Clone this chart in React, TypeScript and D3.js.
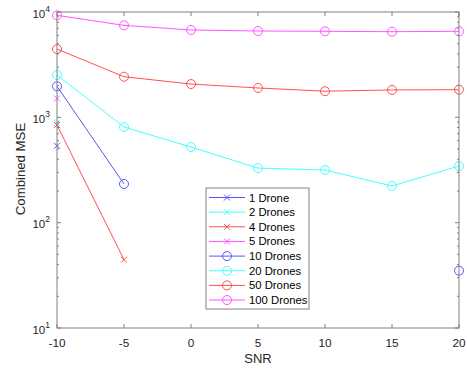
import React from "react";
import * as d3 from "d3";

const snr = [-10, -5, 0, 5, 10, 15, 20];
const xTicks = [-10, -5, 0, 5, 10, 15, 20];
const yTickExps = [1, 2, 3, 4];

// null = no data
const drone1 = [537, null, null, null, null, null, null];
const drone2 = [890, null, null, null, null, null, null];
const drone4 = [845, 44.5, null, null, null, null, null];
const drone5 = [1510, null, null, null, null, null, null];
const drone10 = [1970, 233, null, null, null, null, 35];
const drone20 = [2520, 810, 522, 330, 316, 223, 345];
const drone50 = [4450, 2430, 2070, 1900, 1770, 1820, 1830];
const drone100 = [9300, 7470, 6750, 6600, 6560, 6500, 6560];

const seriesNames = ["1 Drone", "2 Drones", "4 Drones", "5 Drones", "10 Drones", "20 Drones", "50 Drones", "100 Drones"];
const seriesData = [drone1, drone2, drone4, drone5, drone10, drone20, drone50, drone100];
const seriesColors = ["#5555ff", "#44ffff", "#ff5050", "#ff55ff", "#5555ff", "#44ffff", "#ff5050", "#ff55ff"];
const seriesMarkers = ["x", "x", "x", "x", "o", "o", "o", "o"];

const W = 467, H = 370;
const left = 57, right = 459, top = 12, bottom = 328;

function Marker({ type, cx, cy, color }: { type: string; cx: number; cy: number; color: string }) {
  if (type === "o") return <circle cx={cx} cy={cy} r={4.5} fill="none" stroke={color} strokeWidth={1} />;
  const s = 3;
  return (
    <path d={`M${cx - s},${cy - s}L${cx + s},${cy + s}M${cx - s},${cy + s}L${cx + s},${cy - s}`} stroke={color} strokeWidth={1} />
  );
}

export default function App() {
  const x = d3.scaleLinear().domain([-10, 20]).range([left, right]);
  const y = d3.scaleLog().domain([10, 10000]).range([bottom, top]);
  const line = d3
    .line<number | null>()
    .defined((d) => d !== null)
    .x((_, i) => x(snr[i]))
    .y((d) => y(d as number));

  const axisColor = "#808080";
  const textColor = "#262626";
  const minor: number[] = [];
  for (let e = 1; e < 4; e++) for (let m = 2; m <= 9; m++) minor.push(m * Math.pow(10, e));

  const legX = 206, legY = 188, legW = 103, legH = 121;
  const font = "'Liberation Sans', Arial, sans-serif";

  return (
    <svg width={W} height={H} style={{ position: "absolute", left: 0, top: 0, background: "#fff" }} fontFamily={font}>
      <rect x={0} y={0} width={W} height={H} fill="#fff" />
      {seriesData.map((d, k) => (
        <g key={k}>
          <path d={line(d) || ""} fill="none" stroke={seriesColors[k]} strokeWidth={1} />
          {d.map((v, i) =>
            v === null ? null : <Marker key={i} type={seriesMarkers[k]} cx={x(snr[i])} cy={y(v)} color={seriesColors[k]} />
          )}
        </g>
      ))}
      <rect x={left} y={top} width={right - left} height={bottom - top} fill="none" stroke={axisColor} strokeWidth={1} />
      {xTicks.map((t) => (
        <g key={t}>
          <line x1={x(t)} x2={x(t)} y1={bottom} y2={bottom - 4} stroke={axisColor} />
          <line x1={x(t)} x2={x(t)} y1={top} y2={top + 4} stroke={axisColor} />
          <text x={x(t)} y={bottom + 18.5} textAnchor="middle" fontSize={11.8} fill={textColor}>
            {t}
          </text>
        </g>
      ))}
      {yTickExps.map((e) => {
        const yy = y(Math.pow(10, e));
        return (
          <g key={e}>
            <line x1={left} x2={left + 4} y1={yy} y2={yy} stroke={axisColor} />
            <line x1={right} x2={right - 4} y1={yy} y2={yy} stroke={axisColor} />
            <text x={left - 7} y={yy + 5.5} textAnchor="end" fontSize={11.5} fill={textColor}>
              10<tspan dy={-6} fontSize={8.5}>{e}</tspan>
            </text>
          </g>
        );
      })}
      {minor.map((v) => (
        <g key={v}>
          <line x1={left} x2={left + 2} y1={y(v)} y2={y(v)} stroke={axisColor} />
          <line x1={right} x2={right - 2} y1={y(v)} y2={y(v)} stroke={axisColor} />
        </g>
      ))}
      <text x={258} y={362.5} textAnchor="middle" fontSize={13} fill={textColor}>
        SNR
      </text>
      <text transform={`translate(25,${169}) rotate(-90)`} textAnchor="middle" fontSize={13.2} fill={textColor}>
        Combined MSE
      </text>
      <rect x={legX} y={legY} width={legW} height={legH} fill="#fff" stroke={axisColor} strokeWidth={1} />
      {seriesNames.map((n, k) => {
        const ly = 197.5 + k * 14.65;
        return (
          <g key={n}>
            <line x1={209} x2={245} y1={ly} y2={ly} stroke={seriesColors[k]} strokeWidth={1} />
            <Marker type={seriesMarkers[k]} cx={227} cy={ly} color={seriesColors[k]} />
            <text x={249} y={ly + 4} fontSize={11.3} fill="#000">
              {n}
            </text>
          </g>
        );
      })}
    </svg>
  );
}
